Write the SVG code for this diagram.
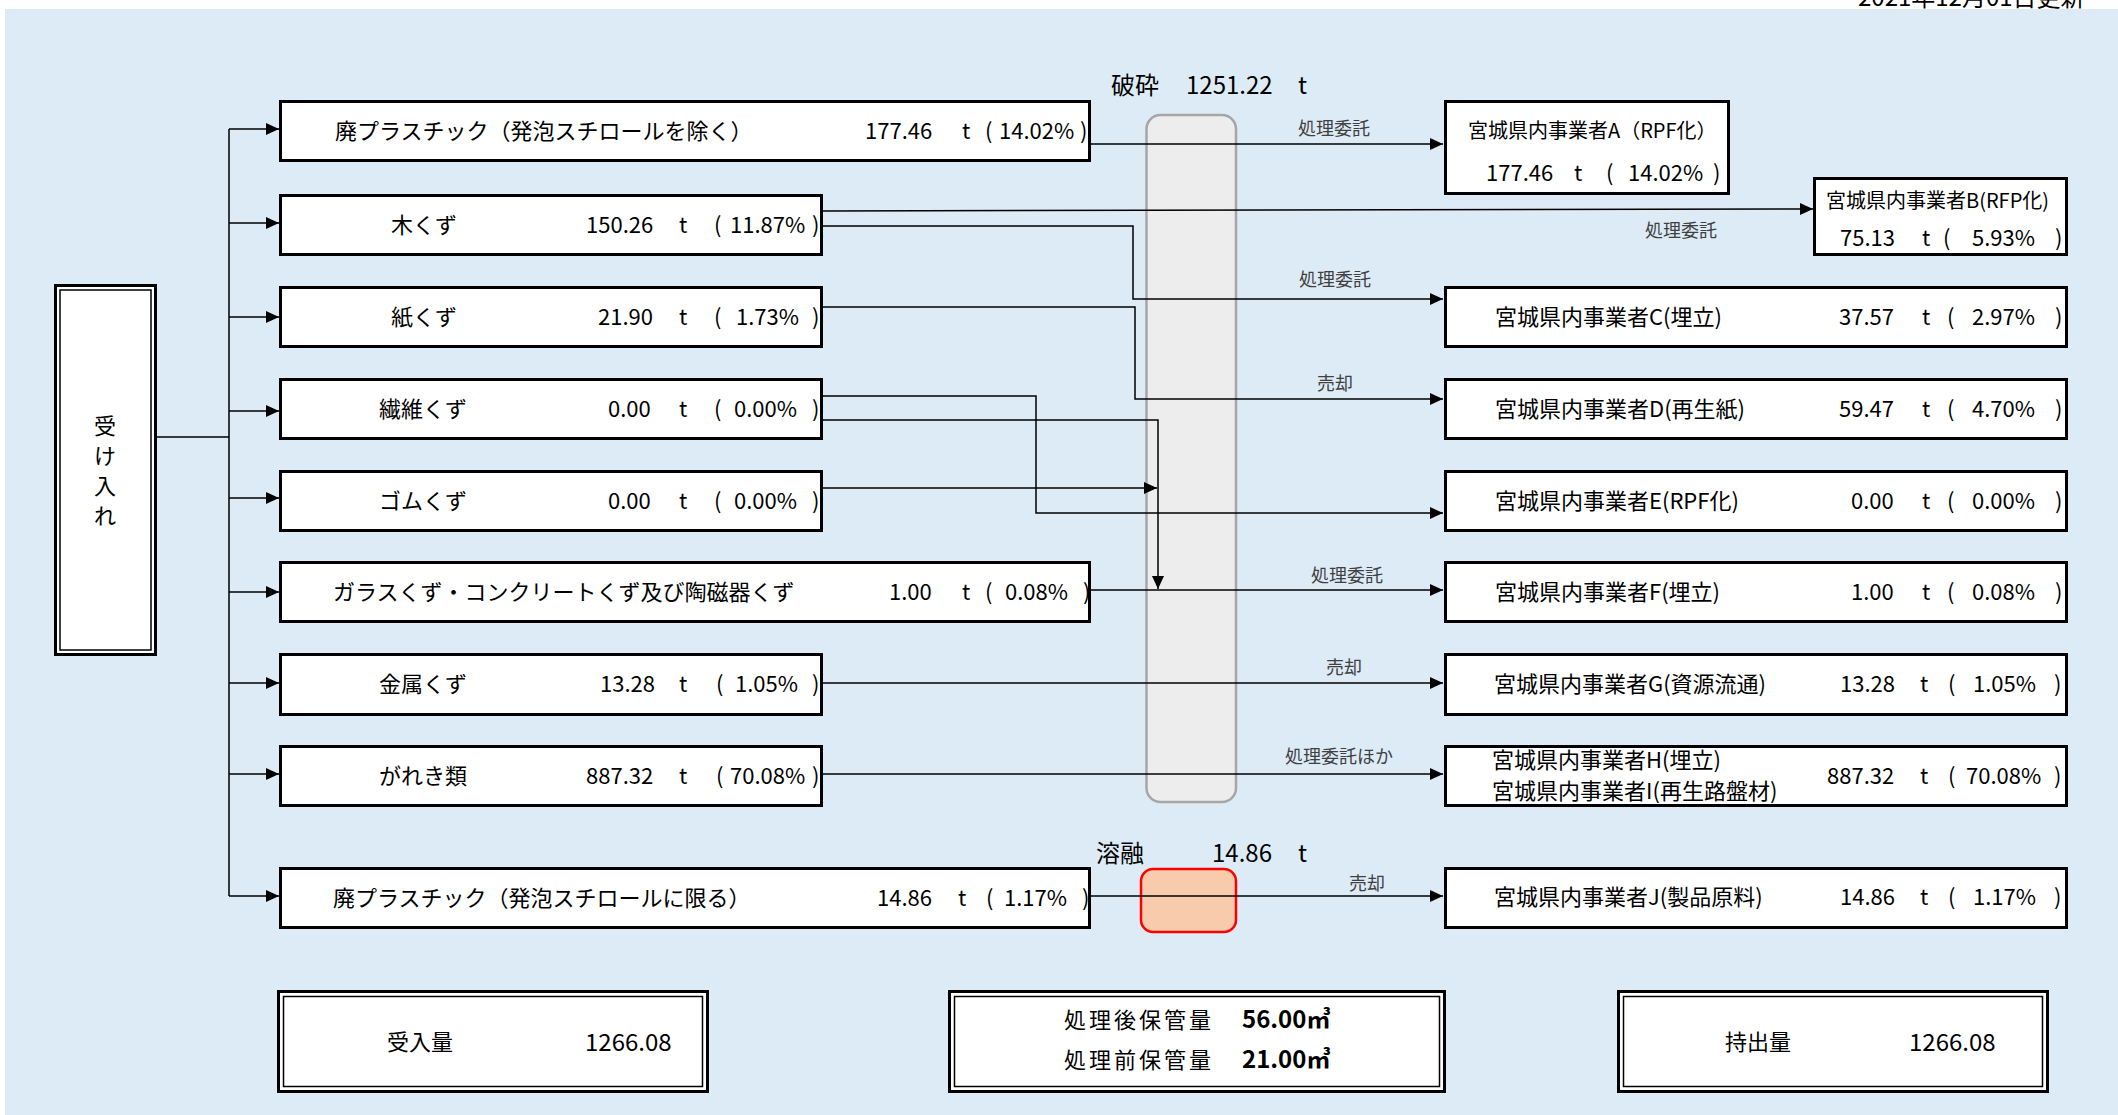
<svg xmlns="http://www.w3.org/2000/svg" width="2118" height="1115" viewBox="0 0 2118 1115">
<defs>
<marker id="ah" markerUnits="userSpaceOnUse" markerWidth="13" markerHeight="12" refX="13" refY="6" orient="auto">
<path d="M0,0 L13,6 L0,12 z" fill="#000"/>
</marker>
<style>
text{font-family:"Noto Sans CJK JP","Noto Sans",sans-serif;fill:#000;}
.box{fill:#fff;stroke:#000;stroke-width:3;}
.dbo{fill:#fff;stroke:#000;stroke-width:3;}
.dbi{fill:none;stroke:#000;stroke-width:1.5;}
.t22{font-size:22px;}
.t20{font-size:20px;}
.t24{font-size:24px;}
.lbl{font-size:18px;fill:#404040;}
.ln{fill:none;stroke:#000;stroke-width:1.5;}
.arr{marker-end:url(#ah);}
</style>
</defs>
<rect x="0" y="0" width="2118" height="1115" fill="#fff"/>
<rect x="5" y="9" width="2113" height="1106" fill="#DDEBF7"/>
<text class="t24" x="1858" y="6">2021年12月01日更新</text>

<g id="input">
<rect class="dbo" x="55.5" y="285.5" width="100" height="369"/>
<rect class="dbi" x="60" y="290" width="91" height="360"/>
<text font-size="22" text-anchor="middle"><tspan x="105" y="434">受</tspan><tspan x="105" y="464">け</tspan><tspan x="105" y="494">入</tspan><tspan x="105" y="524">れ</tspan></text>
</g>

<g id="src1"><rect class="box" x="280.5" y="101.5" width="809" height="59"/>
<text class="t22" y="139"><tspan x="335">廃プラスチック（発泡スチロールを除く）</tspan><tspan x="865">177.46</tspan><tspan x="962">t</tspan><tspan x="985">(</tspan><tspan x="999">14.02%</tspan><tspan x="1080">)</tspan></text></g>
<g id="src2"><rect class="box" x="280.5" y="195.5" width="541" height="59"/>
<text class="t22" y="233"><tspan x="391">木くず</tspan><tspan x="586">150.26</tspan><tspan x="679">t</tspan><tspan x="714">(</tspan><tspan x="730">11.87%</tspan><tspan x="812">)</tspan></text></g>
<g id="src3"><rect class="box" x="280.5" y="287.5" width="541" height="59"/>
<text class="t22" y="325"><tspan x="391">紙くず</tspan><tspan x="598">21.90</tspan><tspan x="679">t</tspan><tspan x="714">(</tspan><tspan x="736">1.73%</tspan><tspan x="812">)</tspan></text></g>
<g id="src4"><rect class="box" x="280.5" y="379.5" width="541" height="59"/>
<text class="t22" y="417"><tspan x="379">繊維くず</tspan><tspan x="608">0.00</tspan><tspan x="679">t</tspan><tspan x="714">(</tspan><tspan x="734">0.00%</tspan><tspan x="812">)</tspan></text></g>
<g id="src5"><rect class="box" x="280.5" y="471.5" width="541" height="59"/>
<text class="t22" y="509"><tspan x="379">ゴムくず</tspan><tspan x="608">0.00</tspan><tspan x="679">t</tspan><tspan x="714">(</tspan><tspan x="734">0.00%</tspan><tspan x="812">)</tspan></text></g>
<g id="src6"><rect class="box" x="280.5" y="562.5" width="809" height="59"/>
<text class="t22" y="600"><tspan x="333">ガラスくず・コンクリートくず及び陶磁器くず</tspan><tspan x="889">1.00</tspan><tspan x="962">t</tspan><tspan x="985">(</tspan><tspan x="1005">0.08%</tspan><tspan x="1083">)</tspan></text></g>
<g id="src7"><rect class="box" x="280.5" y="654.5" width="541" height="60"/>
<text class="t22" y="692"><tspan x="379">金属くず</tspan><tspan x="600">13.28</tspan><tspan x="679">t</tspan><tspan x="716">(</tspan><tspan x="735">1.05%</tspan><tspan x="812">)</tspan></text></g>
<g id="src8"><rect class="box" x="280.5" y="746.5" width="541" height="59"/>
<text class="t22" y="784"><tspan x="379">がれき類</tspan><tspan x="586">887.32</tspan><tspan x="679">t</tspan><tspan x="716">(</tspan><tspan x="730">70.08%</tspan><tspan x="812">)</tspan></text></g>
<g id="src9"><rect class="box" x="280.5" y="868.5" width="809" height="59"/>
<text class="t22" y="906"><tspan x="333">廃プラスチック（発泡スチロールに限る）</tspan><tspan x="877">14.86</tspan><tspan x="958">t</tspan><tspan x="986">(</tspan><tspan x="1004">1.17%</tspan><tspan x="1082">)</tspan></text></g>

<g id="crush">
<rect x="1146.5" y="115" width="89.5" height="687" rx="14" fill="#EDEDED" stroke="#A6A6A6" stroke-width="2.5"/>
<text class="t24" y="93.5"><tspan x="1111">破砕</tspan><tspan x="1186">1251.22</tspan><tspan x="1298">t</tspan></text>
</g>
<g id="melt">
<rect x="1141" y="869" width="95" height="63" rx="12" fill="#F8CBAD" stroke="#FF0000" stroke-width="2.5"/>
<text class="t24" y="861.5"><tspan x="1096">溶融</tspan><tspan x="1212">14.86</tspan><tspan x="1298">t</tspan></text>
</g>

<g id="dstA"><rect class="box" x="1445.5" y="101.5" width="283" height="92"/>
<text class="t20" x="1468" y="137.5">宮城県内事業者A（RPF化）</text>
<text class="t22" y="181"><tspan x="1486">177.46</tspan><tspan x="1574">t</tspan><tspan x="1606">(</tspan><tspan x="1628">14.02%</tspan><tspan x="1713">)</tspan></text></g>
<g id="dstB"><rect class="box" x="1814.5" y="178.5" width="252" height="76"/>
<text class="t20" x="1826" y="207.5">宮城県内事業者B(RFP化)</text>
<text class="t22" y="246"><tspan x="1840">75.13</tspan><tspan x="1922">t</tspan><tspan x="1943">(</tspan><tspan x="1972">5.93%</tspan><tspan x="2055">)</tspan></text></g>
<g id="dstC"><rect class="box" x="1445.5" y="287.5" width="621" height="59"/>
<text class="t22" y="325"><tspan x="1495">宮城県内事業者C(埋立)</tspan><tspan x="1839">37.57</tspan><tspan x="1922">t</tspan><tspan x="1947">(</tspan><tspan x="1972">2.97%</tspan><tspan x="2055">)</tspan></text></g>
<g id="dstD"><rect class="box" x="1445.5" y="379.5" width="621" height="59"/>
<text class="t22" y="417"><tspan x="1495">宮城県内事業者D(再生紙)</tspan><tspan x="1839">59.47</tspan><tspan x="1922">t</tspan><tspan x="1947">(</tspan><tspan x="1972">4.70%</tspan><tspan x="2055">)</tspan></text></g>
<g id="dstE"><rect class="box" x="1445.5" y="471.5" width="621" height="59"/>
<text class="t22" y="509"><tspan x="1495">宮城県内事業者E(RPF化)</tspan><tspan x="1851">0.00</tspan><tspan x="1922">t</tspan><tspan x="1947">(</tspan><tspan x="1972">0.00%</tspan><tspan x="2055">)</tspan></text></g>
<g id="dstF"><rect class="box" x="1445.5" y="562.5" width="621" height="59"/>
<text class="t22" y="600"><tspan x="1495">宮城県内事業者F(埋立)</tspan><tspan x="1851">1.00</tspan><tspan x="1922">t</tspan><tspan x="1947">(</tspan><tspan x="1972">0.08%</tspan><tspan x="2055">)</tspan></text></g>
<g id="dstG"><rect class="box" x="1445.5" y="654.5" width="621" height="60"/>
<text class="t22" y="692"><tspan x="1494">宮城県内事業者G(資源流通)</tspan><tspan x="1840">13.28</tspan><tspan x="1920">t</tspan><tspan x="1948">(</tspan><tspan x="1973">1.05%</tspan><tspan x="2054">)</tspan></text></g>
<g id="dstHI"><rect class="box" x="1445.5" y="746.5" width="621" height="59"/>
<text class="t22" x="1492" y="768">宮城県内事業者H(埋立)</text>
<text class="t22" x="1492" y="799">宮城県内事業者I(再生路盤材)</text>
<text class="t22" y="784"><tspan x="1827">887.32</tspan><tspan x="1920">t</tspan><tspan x="1948">(</tspan><tspan x="1966">70.08%</tspan><tspan x="2054">)</tspan></text></g>
<g id="dstJ"><rect class="box" x="1445.5" y="868.5" width="621" height="59"/>
<text class="t22" y="905"><tspan x="1494">宮城県内事業者J(製品原料)</tspan><tspan x="1840">14.86</tspan><tspan x="1920">t</tspan><tspan x="1948">(</tspan><tspan x="1973">1.17%</tspan><tspan x="2054">)</tspan></text></g>

<g id="totalIn">
<rect class="dbo" x="278.5" y="991.5" width="429" height="100"/>
<rect class="dbi" x="283.5" y="996.5" width="419" height="90"/>
<text class="t22" x="387" y="1050">受入量</text>
<text class="t24" x="585" y="1050.5">1266.08</text>
</g>
<g id="storage">
<rect class="dbo" x="949.5" y="991.5" width="495" height="100"/>
<rect class="dbi" x="954.5" y="996.5" width="485" height="90"/>
<text class="t22" y="1028"><tspan x="1064" letter-spacing="3">処理後保管量</tspan><tspan x="1242" font-weight="bold" font-size="24">56.00㎥</tspan></text>
<text class="t22" y="1068"><tspan x="1064" letter-spacing="3">処理前保管量</tspan><tspan x="1242" font-weight="bold" font-size="24">21.00㎥</tspan></text>
</g>
<g id="totalOut">
<rect class="dbo" x="1618.5" y="991.5" width="429" height="100"/>
<rect class="dbi" x="1623.5" y="996.5" width="419" height="90"/>
<text class="t22" x="1725" y="1050">持出量</text>
<text class="t24" x="1909" y="1050.5">1266.08</text>
</g>

<g id="connectors">
<path class="ln" d="M157,437 H229 M229,129 V896"/>
<path class="ln arr" d="M229,129 H279"/>
<path class="ln arr" d="M229,223 H279"/>
<path class="ln arr" d="M229,317 H279"/>
<path class="ln arr" d="M229,411 H279"/>
<path class="ln arr" d="M229,498 H279"/>
<path class="ln arr" d="M229,592 H279"/>
<path class="ln arr" d="M229,683 H279"/>
<path class="ln arr" d="M229,774 H279"/>
<path class="ln arr" d="M229,896 H279"/>
<path class="ln arr" d="M1091,144 H1443"/>
<path class="ln arr" d="M823,211 L1813,209"/>
<path class="ln arr" d="M823,226 H1133 V299 H1443"/>
<path class="ln arr" d="M823,307 H1135 V399 H1443"/>
<path class="ln arr" d="M823,396 H1036 V513 H1443"/>
<path class="ln arr" d="M823,420 H1158 V589"/>
<path class="ln arr" d="M823,488 H1157"/>
<path class="ln arr" d="M1091,590 H1443"/>
<path class="ln arr" d="M823,683 H1443"/>
<path class="ln arr" d="M823,774 H1443"/>
<path class="ln arr" d="M1091,896 H1443"/>
<text class="lbl" x="1298" y="134.5">処理委託</text>
<text class="lbl" x="1645" y="236.5">処理委託</text>
<text class="lbl" x="1299" y="285.5">処理委託</text>
<text class="lbl" x="1317" y="389.5">売却</text>
<text class="lbl" x="1311" y="581.5">処理委託</text>
<text class="lbl" x="1326" y="673.5">売却</text>
<text class="lbl" x="1285" y="762.5">処理委託ほか</text>
<text class="lbl" x="1349" y="889.5">売却</text>
</g>
</svg>
